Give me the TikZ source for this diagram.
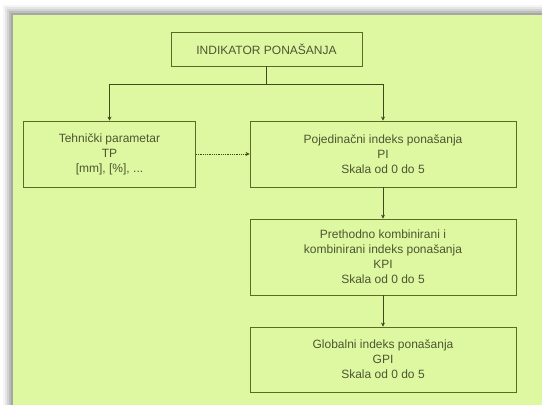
\documentclass[tikz,border=0pt]{standalone}
\usepackage{fontspec}
\setmainfont{Liberation Sans}
\usepackage{tikz}
\usetikzlibrary{arrows,arrows.meta,positioning}
\definecolor{panel}{HTML}{DEF8A2}
\definecolor{olive}{HTML}{5C6B24}
\definecolor{txt}{HTML}{4E5530}
\begin{document}
\begin{tikzpicture}[x=1pt,y=-1pt,inner sep=0pt]
  \useasboundingbox(0,0)rectangle(542,405);
  % panel with soft shadow
  \fill[white](0,0)rectangle(542,405);
  \foreach\s/\o in{10/0.04,8/0.06,6/0.08,4/0.10,2/0.12}{\fill[black,opacity=\o](13-\s,15-\s)rectangle(542,405);}
  \fill[panel](13,15)rectangle(542,405);
  \tikzstyle{b}=[rectangle,draw=olive,line width=0.8pt,align=center,text=txt,font=\fontsize{12}{15}\selectfont]
  \node[b,minimum width=191,minimum height=34](ind)at(266.5,49){INDIKATOR PONAŠANJA};
  \node[b,minimum width=172,minimum height=66](tp)at(109.5,154){Tehnički parametar\\TP\\{[mm], [\%], ...}};
  \node[b,minimum width=266,minimum height=66](pi)at(383,154){Pojedinačni indeks ponašanja\\PI\\Skala od 0 do 5};
  \node[b,minimum width=266,minimum height=76](kpi)at(383,257){Prethodno kombinirani i\\kombinirani indeks ponašanja\\KPI\\Skala od 0 do 5};
  \node[b,minimum width=266,minimum height=65](gpi)at(383,359.5){Globalni indeks ponašanja\\GPI\\Skala od 0 do 5};
  \coordinate(j)at(266.5,84);
  \tikzstyle{e}=[-{Stealth[length=4pt,width=4pt]},draw=olive!70!black,line width=0.8pt]
  \draw[e,-](ind.south)--(j);
  \foreach\d in{tp,pi}{\draw[e](j)-|(\d.north);}
  \foreach\o/\d in{pi/kpi,kpi/gpi}{\draw[e](\o.south)--(\d.north);}
  \draw[e,densely dotted](tp.east)--(pi.west);
\end{tikzpicture}
\end{document}
